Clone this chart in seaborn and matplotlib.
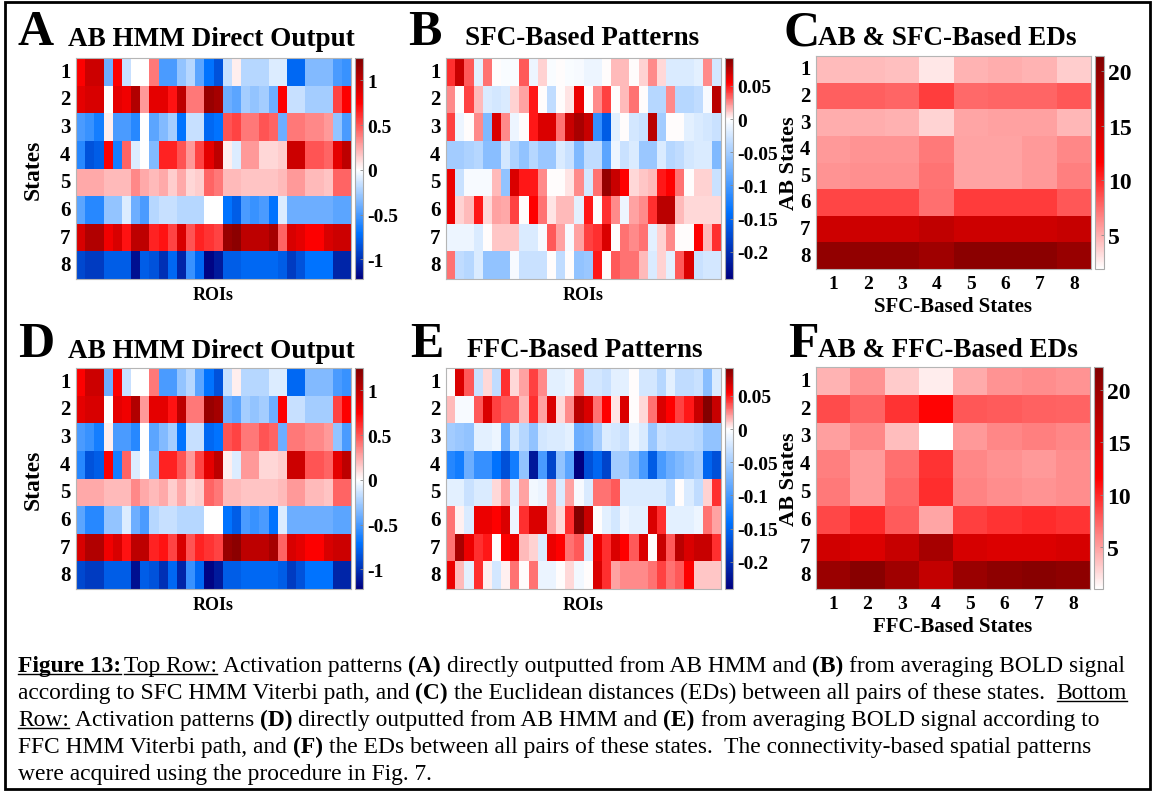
import matplotlib
matplotlib.use("Agg")
import matplotlib.pyplot as plt
import numpy as np
import seaborn as sns
from matplotlib.colors import LinearSegmentedColormap
from matplotlib.lines import Line2D
from matplotlib.patches import Rectangle

W, H = 1155, 804
SERIF = "Liberation Serif"

states = [str(i) for i in range(1, 9)]

# AB HMM direct output (same matrix shown in panels A and D), 8 states x 30 ROIs
ab_direct = [
    [0.75, 0.95, 0.95, -0.4, 0.75, -0.15, 0.0, 0.0, 0.4, -0.5, -0.5, -0.3, -0.2, -0.45, -0.7, -0.85, -0.15, 0.05, -0.2, -0.2, -0.2, -0.1, -0.1, -0.75, -0.75, -0.35, -0.35, -0.35, -0.5, -0.55],
    [0.85, 0.9, 0.9, 0.0, 0.85, 0.8, 1.05, 0.3, 0.85, 0.85, 0.7, 1.0, 0.4, 0.4, 1.15, 1.1, -0.4, -0.45, -0.25, -0.3, -0.25, -0.4, 0.75, -0.15, -0.15, -0.25, -0.25, -0.25, 0.55, 0.75],
    [-0.5, -0.55, -0.65, 0.05, -0.5, -0.5, -0.6, 0.0, -0.45, -0.35, -0.25, -0.7, -0.15, -0.15, -0.75, -0.7, 0.5, 0.55, 0.4, 0.4, 0.5, 0.45, -0.4, 0.4, 0.4, 0.35, 0.35, 0.3, -0.3, -0.5],
    [-0.6, -0.85, -0.8, 0.75, -0.65, 0.45, -0.1, 0.0, -0.35, 0.65, 0.65, 0.5, 0.3, 0.55, 0.85, 1.0, 0.05, -0.1, 0.3, 0.3, 0.12, 0.12, 0.15, 0.95, 0.95, 0.5, 0.5, 0.45, 0.85, 1.0],
    [0.25, 0.25, 0.25, 0.2, 0.2, 0.2, 0.35, 0.25, 0.2, 0.25, 0.15, 0.25, 0.12, 0.15, 0.45, 0.4, 0.2, 0.2, 0.17, 0.17, 0.17, 0.17, 0.2, 0.3, 0.3, 0.2, 0.2, 0.17, 0.45, 0.45],
    [-0.45, -0.6, -0.6, -0.3, -0.3, -0.1, -0.4, -0.5, -0.2, -0.15, -0.15, -0.2, -0.2, -0.2, 0.0, 0.0, -0.7, -0.8, -0.5, -0.55, -0.5, -0.7, -0.1, -0.4, -0.4, -0.4, -0.4, -0.4, -0.45, -0.45],
    [0.9, 1.05, 1.05, 0.8, 0.9, 0.7, 1.0, 1.0, 0.65, 0.7, 0.55, 0.9, 0.5, 0.65, 0.6, 0.55, 1.15, 1.2, 1.0, 1.0, 1.0, 1.1, 0.45, 0.9, 0.85, 0.75, 0.75, 0.9, 0.95, 0.95],
    [-0.9, -0.95, -0.95, -0.8, -0.8, -0.8, -1.15, -0.8, -0.85, -1.0, -0.75, -1.05, -0.55, -0.75, -1.2, -1.1, -0.8, -0.8, -0.75, -0.75, -0.75, -0.75, -0.8, -0.95, -0.85, -0.7, -0.7, -0.7, -1.05, -1.05],
]

# SFC-based patterns (panel B)
sfc_patterns = [
    [0.045, 0.07, 0.035, -0.015, 0.03, 0.0, -0.003, -0.003, 0.035, -0.01, 0.01, -0.003, 0.0, -0.003, -0.005, -0.01, -0.01, 0.0, 0.015, 0.015, 0.0, 0.01, 0.025, 0.008, -0.02, -0.02, -0.02, -0.015, 0.025, -0.025],
    [0.025, 0.0, 0.04, 0.015, -0.02, -0.025, -0.02, 0.01, 0.02, 0.05, 0.0, -0.035, 0.0, 0.005, 0.06, 0.0, 0.025, 0.04, 0.0, 0.015, 0.03, 0.0, -0.04, -0.04, 0.025, -0.04, -0.04, -0.035, -0.005, 0.075],
    [0.04, -0.01, 0.0, 0.025, -0.07, 0.065, 0.025, -0.01, 0.0, 0.05, 0.065, 0.065, 0.03, 0.07, 0.08, 0.07, -0.11, -0.16, -0.015, 0.0, -0.025, -0.03, 0.075, -0.05, 0.0, 0.0, -0.015, -0.02, -0.025, -0.03],
    [-0.05, -0.05, -0.045, -0.04, -0.065, -0.065, -0.025, -0.045, -0.06, -0.04, -0.055, -0.055, -0.02, -0.03, -0.07, -0.035, -0.035, -0.09, -0.01, -0.03, -0.02, -0.055, -0.055, -0.02, -0.04, -0.035, -0.025, -0.02, -0.02, -0.07],
    [0.06, -0.03, -0.005, -0.005, -0.005, 0.015, -0.06, 0.065, 0.05, 0.05, 0.025, 0.0, 0.0, 0.005, 0.025, -0.025, 0.03, 0.085, 0.07, 0.055, 0.008, 0.012, 0.015, 0.05, 0.055, 0.03, 0.0, 0.01, 0.01, -0.03],
    [0.06, 0.01, 0.015, 0.05, 0.008, 0.02, 0.018, 0.04, 0.0, 0.055, 0.03, 0.005, 0.015, 0.015, -0.015, 0.05, 0.0, 0.045, 0.025, -0.01, 0.02, 0.025, 0.045, 0.075, 0.075, 0.015, 0.008, 0.008, 0.008, 0.008],
    [-0.01, -0.01, -0.01, -0.02, 0.0, 0.012, 0.012, 0.012, -0.02, -0.02, -0.005, 0.035, 0.02, -0.005, 0.02, 0.04, 0.045, 0.065, 0.0, 0.03, 0.025, 0.03, -0.015, 0.01, 0.025, 0.0, 0.0, 0.055, 0.015, 0.045],
    [0.03, -0.035, -0.04, -0.02, -0.06, -0.06, -0.06, -0.005, -0.03, -0.03, -0.03, 0.0, -0.035, 0.0, -0.06, -0.055, 0.05, 0.0, 0.035, 0.03, 0.03, 0.015, -0.02, 0.01, -0.015, 0.035, 0.065, -0.03, -0.025, -0.025],
]

# FFC-based patterns (panel E)
ffc_patterns = [
    [0.0, 0.065, 0.035, -0.03, 0.008, -0.035, 0.045, 0.008, 0.02, 0.04, 0.025, -0.015, -0.015, -0.01, 0.025, -0.025, -0.025, -0.03, -0.015, -0.015, 0.0, -0.025, -0.025, -0.04, -0.015, -0.035, -0.035, -0.03, -0.065, -0.02],
    [0.015, -0.005, -0.005, 0.035, 0.065, 0.04, 0.035, 0.035, 0.015, 0.045, 0.02, 0.065, 0.008, 0.025, 0.075, 0.065, 0.03, 0.055, 0.005, 0.065, 0.0, 0.008, 0.03, 0.065, 0.055, 0.04, 0.05, 0.07, 0.09, 0.07],
    [-0.05, -0.055, -0.06, -0.015, -0.015, -0.01, -0.08, -0.025, -0.04, -0.06, -0.025, -0.02, -0.02, -0.015, -0.08, -0.075, -0.05, -0.02, -0.025, -0.03, -0.01, -0.02, -0.055, -0.03, -0.035, -0.035, -0.035, -0.04, -0.06, -0.06],
    [-0.12, -0.13, -0.08, -0.11, -0.11, -0.14, -0.17, -0.13, -0.06, -0.22, -0.1, -0.18, -0.06, -0.09, -0.24, -0.17, -0.15, -0.18, -0.05, -0.05, -0.07, -0.1, -0.16, -0.1, -0.08, -0.07, -0.06, -0.05, -0.15, -0.17],
    [-0.015, -0.015, -0.03, -0.02, -0.02, 0.008, 0.02, -0.015, 0.02, -0.008, -0.012, 0.02, -0.02, 0.02, -0.005, -0.02, 0.03, 0.03, 0.035, -0.02, -0.02, -0.02, -0.02, -0.02, -0.035, 0.0, -0.02, -0.035, 0.01, 0.045],
    [0.03, 0.003, -0.02, 0.06, 0.06, 0.055, 0.065, -0.01, 0.045, 0.065, 0.065, 0.02, 0.008, 0.045, 0.09, 0.07, 0.0, -0.015, -0.025, -0.01, -0.015, -0.015, 0.065, 0.045, -0.015, -0.015, -0.015, -0.01, 0.03, 0.02],
    [0.03, 0.08, 0.06, 0.045, 0.05, 0.0, 0.055, 0.06, 0.015, 0.01, -0.02, 0.06, 0.055, 0.03, 0.035, -0.02, 0.06, 0.045, 0.065, 0.055, 0.035, 0.065, 0.0, 0.07, 0.035, 0.075, 0.065, 0.07, 0.07, 0.045],
    [0.06, 0.015, -0.015, 0.045, 0.003, -0.025, 0.003, 0.03, 0.0, 0.03, -0.012, -0.012, 0.0, 0.008, -0.008, 0.0, 0.065, 0.045, 0.02, 0.025, 0.025, 0.025, 0.03, 0.04, 0.03, 0.035, 0.055, 0.012, 0.012, 0.012],
]

# Euclidean distances: AB states (rows) vs SFC / FFC states (columns)
sfc_eds = [
    [4.5, 4.5, 4.3, 2.8, 4.8, 5.0, 4.8, 3.8],
    [8.0, 8.0, 7.8, 9.3, 7.6, 7.8, 7.8, 8.3],
    [5.0, 5.0, 4.9, 3.6, 5.3, 5.5, 5.5, 4.6],
    [5.8, 6.0, 6.0, 7.0, 5.4, 5.4, 5.8, 6.5],
    [6.0, 6.2, 6.2, 7.2, 5.4, 5.4, 5.8, 6.8],
    [9.0, 9.0, 9.0, 7.4, 9.4, 9.4, 9.4, 8.3],
    [15.5, 15.5, 15.5, 16.5, 15.5, 15.5, 15.5, 16.0],
    [20.0, 20.0, 20.0, 19.0, 20.5, 20.5, 20.5, 19.5],
]
ffc_eds = [
    [4.2, 5.5, 3.2, 1.8, 4.5, 5.5, 5.8, 5.5],
    [8.5, 7.5, 9.5, 11.5, 8.0, 7.8, 7.6, 7.5],
    [5.0, 6.0, 3.8, 1.0, 5.3, 6.0, 6.3, 6.0],
    [6.3, 5.2, 7.0, 9.5, 6.0, 5.6, 5.3, 5.8],
    [6.6, 5.2, 7.3, 9.7, 6.2, 5.8, 5.5, 5.8],
    [8.7, 9.8, 7.8, 4.8, 9.0, 9.5, 9.8, 9.5],
    [15.5, 14.5, 16.3, 19.0, 15.0, 14.5, 14.5, 15.0],
    [20.0, 21.5, 19.5, 16.5, 20.0, 21.0, 21.5, 21.0],
]

ab_ticks = [-1, -0.5, 0, 0.5, 1]
ab_ticklabels = ["-1", "-0.5", "0", "0.5", "1"]
conn_ticks = [-0.2, -0.15, -0.1, -0.05, 0, 0.05]
conn_ticklabels = ["-0.2", "-0.15", "-0.1", "-0.05", "0", "0.05"]
ed_ticks = [5, 10, 15, 20]


def px(x0, y0, w, h):
    """pixel box (top-left origin) -> figure fraction rect"""
    return [x0 / W, 1 - (y0 + h) / H, w / W, h / H]


def diverging(white):
    return LinearSegmentedColormap.from_list(
        "bwr_custom",
        [(0, (0, 0, 0.5)), (white * 0.42, (0, 0.45, 1)), (white, (1, 1, 1)),
         (white + 0.6 * (1 - white), (1, 0, 0)), (1, (0.5, 0, 0))],
    )


reds = LinearSegmentedColormap.from_list(
    "white_red", [(0, (1, 1, 1)), (0.5, (1, 0, 0)), (1, (0.5, 0, 0))]
)

bold = dict(family=SERIF, fontweight="bold")


def style_cbar(ax, ticklabels, size):
    cb = ax.collections[0].colorbar
    cb.outline.set_edgecolor("#aaaaaa")
    cb.outline.set_linewidth(0.8)
    cb.ax.tick_params(length=2, width=0.6, color="#888888", direction="in", pad=3)
    cb.ax.set_yticklabels(ticklabels, fontsize=size, **bold)


def frame(ax):
    for s in ax.spines.values():
        s.set_visible(True)
        s.set_color("#b5b5b5")
        s.set_linewidth(0.8)


def pattern_panel(data, box, cbox, vmin, vmax, ticks, ticklabels, ylabel):
    ax = fig.add_axes(px(*box))
    cax = fig.add_axes(px(*cbox))
    white = -vmin / (vmax - vmin)
    sns.heatmap(np.array(data), ax=ax, cbar_ax=cax, cmap=diverging(white),
                vmin=vmin, vmax=vmax, xticklabels=False, yticklabels=states,
                cbar_kws={"ticks": ticks})
    ax.set_yticklabels(states, rotation=0, fontsize=15, **bold)
    ax.tick_params(axis="y", length=0, pad=4)
    ax.set_xlabel("ROIs", fontsize=13, labelpad=5, **bold)
    if ylabel:
        ax.set_ylabel(ylabel, fontsize=17, labelpad=12, **bold)
    frame(ax)
    style_cbar(ax, ticklabels, 14)
    return ax


def ed_panel(data, box, cbox, vmin, vmax, xlabel):
    ax = fig.add_axes(px(*box))
    cax = fig.add_axes(px(*cbox))
    sns.heatmap(np.array(data), ax=ax, cbar_ax=cax, cmap=reds, vmin=vmin,
                vmax=vmax, xticklabels=states, yticklabels=states,
                cbar_kws={"ticks": ed_ticks})
    ax.set_yticklabels(states, rotation=0, fontsize=15, **bold)
    ax.set_xticklabels(states, rotation=0, fontsize=14, **bold)
    ax.tick_params(length=0, pad=4)
    ax.set_xlabel(xlabel, fontsize=15, labelpad=3, **bold)
    ax.set_ylabel("AB States", fontsize=16, labelpad=1, **bold)
    frame(ax)
    style_cbar(ax, [str(t) for t in ed_ticks], 17)
    return ax


fig = plt.figure(figsize=(W / 100, H / 100), dpi=100)
fig.patch.set_facecolor("white")

# top row
pattern_panel(ab_direct, (76, 59, 275, 221), (355, 59, 8, 221), -1.22, 1.25,
              ab_ticks, ab_ticklabels, "States")
pattern_panel(sfc_patterns, (446, 59, 275, 221), (725, 59, 8, 221), -0.241, 0.092,
              conn_ticks, conn_ticklabels, None)
ed_panel(sfc_eds, (816, 57, 275, 213), (1095, 57, 9, 213), 1.85, 21.4, "SFC-Based States")

# bottom row
pattern_panel(ab_direct, (76, 369, 275, 221), (355, 369, 8, 221), -1.22, 1.25,
              ab_ticks, ab_ticklabels, "States")
pattern_panel(ffc_patterns, (446, 369, 275, 221), (725, 369, 8, 221), -0.241, 0.092,
              conn_ticks, conn_ticklabels, None)
ed_panel(ffc_eds, (816, 368, 274, 222), (1094, 368, 9, 222), 1.0, 22.2, "FFC-Based States")

# panel letters and titles
letters = [("A", 18, 45), ("B", 408, 45), ("C", 783, 45),
           ("D", 18, 357), ("E", 410, 357), ("F", 788, 357)]
for letter, x, y in letters:
    fig.text(x / W, 1 - y / H, letter, fontsize=36, va="baseline", ha="left", **bold)

titles = [("AB HMM Direct Output", 68, 46), ("SFC-Based Patterns", 465, 45),
          ("AB & SFC-Based EDs", 818, 45), ("AB HMM Direct Output", 68, 358),
          ("FFC-Based Patterns", 467, 357), ("AB & FFC-Based EDs", 818, 357)]
for title, x, y in titles:
    fig.text(x / W, 1 - y / H, title, fontsize=19.5, va="baseline", ha="left", **bold)

# caption with mixed formatting: (text, bold, underline); None = small gap
caption = [
    [("Figure 13:", True, True), None, ("Top Row:", False, True),
     (" Activation patterns ", False, False), ("(A)", True, False),
     (" directly outputted from AB HMM and ", False, False), ("(B)", True, False),
     (" from averaging BOLD signal", False, False)],
    [("according to SFC HMM Viterbi path, and ", False, False), ("(C)", True, False),
     (" the Euclidean distances (EDs) between all pairs of these states.  ", False, False),
     ("Bottom", False, True)],
    [("Row:", False, True), (" Activation patterns ", False, False), ("(D)", True, False),
     (" directly outputted from AB HMM and ", False, False), ("(E)", True, False),
     (" from averaging BOLD signal according to", False, False)],
    [("FFC HMM Viterbi path, and ", False, False), ("(F)", True, False),
     (" the EDs between all pairs of these states.  The connectivity-based spatial patterns",
      False, False)],
    [("were acquired using the procedure in Fig. 7.", False, False)],
]

renderer = fig.canvas.get_renderer()
cap_size = 16.9


def width_of(s, weight):
    t = fig.text(0, 0, s, fontsize=cap_size, family=SERIF, fontweight=weight)
    w = t.get_window_extent(renderer).width
    t.remove()
    return w


space_w = {w: width_of("a a", w) - width_of("aa", w) for w in ("normal", "bold")}

baseline = 672
for line in caption:
    x = 18
    y = H - baseline
    for run in line:
        if run is None:
            x += 0.55 * space_w["normal"]
            continue
        text, is_bold, underline = run
        weight = "bold" if is_bold else "normal"
        lead = len(text) - len(text.lstrip(" "))
        trail = len(text) - len(text.rstrip(" "))
        x += lead * space_w[weight]
        core = text.strip(" ")
        if core:
            t = fig.text(x / W, y / H, core, fontsize=cap_size, family=SERIF,
                         fontweight=weight, va="baseline", ha="left")
            bb = t.get_window_extent(renderer)
            if underline:
                fig.add_artist(Line2D([bb.x0 / W, bb.x1 / W], [(y - 2.5) / H] * 2,
                                      color="black", lw=1.0, transform=fig.transFigure))
            x = bb.x1
        x += trail * space_w[weight]
    baseline += 27

# outer frame
fig.add_artist(Rectangle((5 / W, 1 - 790 / H), 1145 / W, 787 / H, fill=False,
                         ec="black", lw=2, transform=fig.transFigure))

fig.savefig("out.png", dpi=100)
